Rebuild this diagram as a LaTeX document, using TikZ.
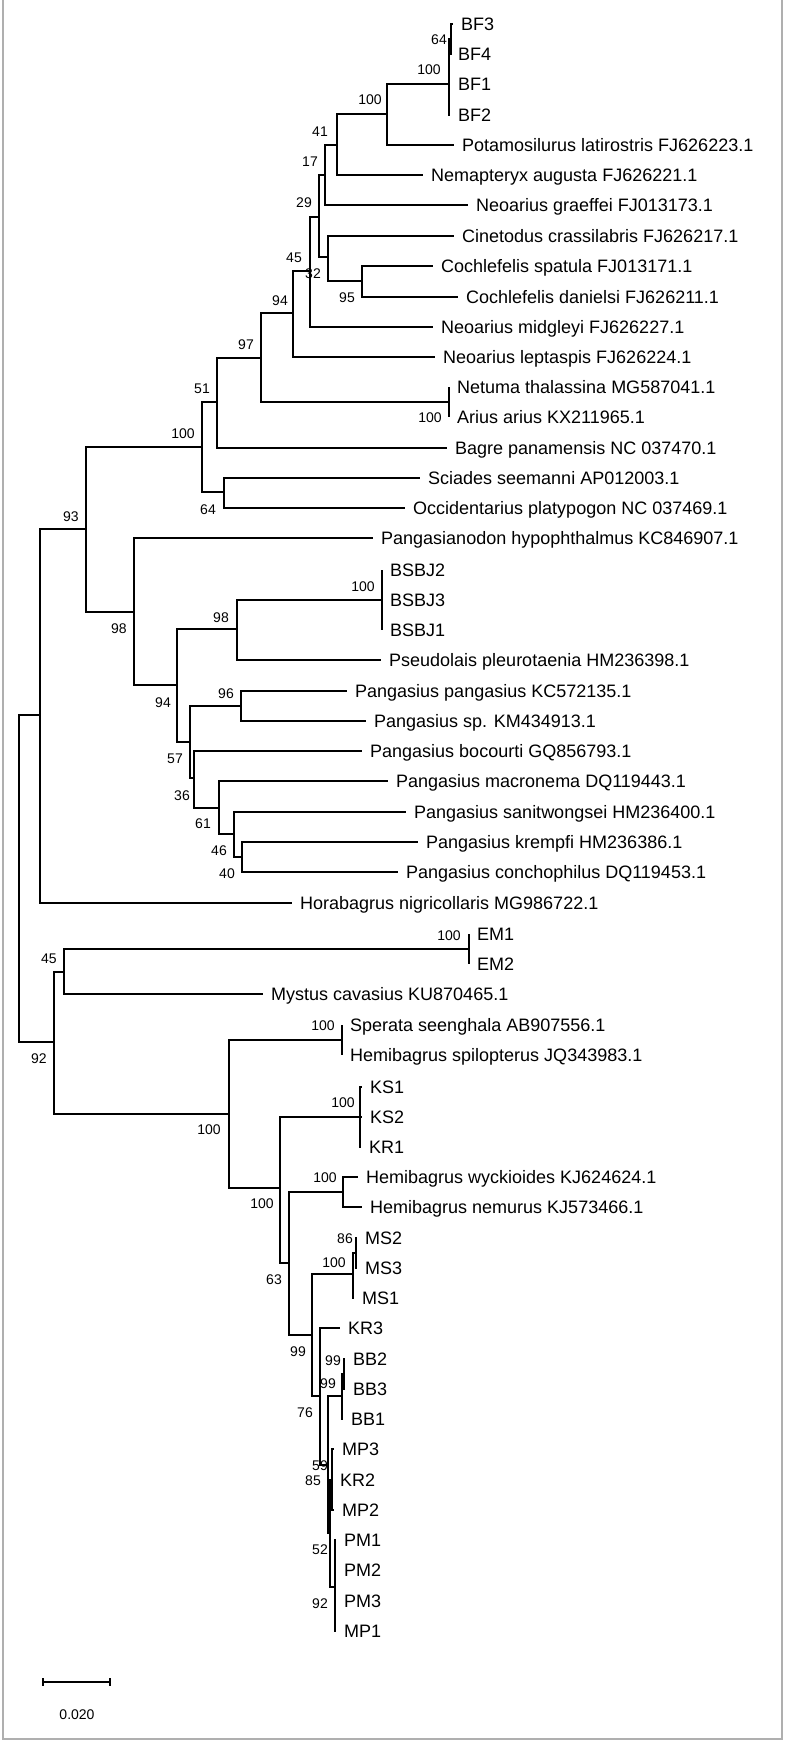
\documentclass[tikz,border=0pt]{standalone}
\usepackage{fontspec}
\setmainfont{Liberation Sans}
\definecolor{framegray}{RGB}{175,175,175}
\begin{document}
\begin{tikzpicture}[x=1pt, y=-1pt,
	branch/.style = {line width = 1.3pt},
	leaf/.style = {anchor = west, inner xsep = 8pt, inner ysep = 0pt, text height = 13pt, text depth = 0pt, font = \fontsize{18}{18}\selectfont},
	boot/.style = {inner sep = 0pt, text height = 10pt, text depth = 0pt, font = \fontsize{14}{14}\selectfont}]

	\useasboundingbox (0,0) rectangle (787,1744);
	\draw [framegray, line width = 2pt] (2.5,0) -- (2.5,1739) -- (782,1739) -- (782,0);

	\coordinate (root) at (19,878);
	\coordinate (nA) at (40,715);
	\coordinate (nB) at (86,529);
	\coordinate (nC) at (202,447);
	\coordinate (nE) at (217,402);
	\coordinate (nG) at (261,358);
	\coordinate (nNA) at (449,402);
	\coordinate (nH) at (293,313);
	\coordinate (nI) at (310,271);
	\coordinate (nJ) at (319,217);
	\coordinate (nL) at (325,175);
	\coordinate (nM) at (337,145);
	\coordinate (nN) at (387,114);
	\coordinate (nO) at (449,84);
	\coordinate (nP) at (451,39);
	\coordinate (nK) at (328,257);
	\coordinate (nQ) at (362,281);
	\coordinate (nF) at (224,492);
	\coordinate (nD) at (134,612);
	\coordinate (nS) at (177,685);
	\coordinate (nT) at (237,629);
	\coordinate (nBS) at (382,600);
	\coordinate (nU) at (190,742);
	\coordinate (nV) at (241,706);
	\coordinate (nW) at (194,778);
	\coordinate (nX) at (219,808);
	\coordinate (nY) at (234,834);
	\coordinate (nZ) at (242,857);
	\coordinate (nAA) at (54,1042);
	\coordinate (nBB) at (64,972);
	\coordinate (nEM) at (469,949);
	\coordinate (nCC) at (229,1114);
	\coordinate (nDD) at (342,1040);
	\coordinate (nEE) at (280,1188);
	\coordinate (nKS) at (360,1117);
	\coordinate (nFF) at (289,1263);
	\coordinate (nGG) at (343,1192);
	\coordinate (nHH) at (312,1335);
	\coordinate (nMS) at (353,1274);
	\coordinate (nMT) at (356,1253);
	\coordinate (nII) at (320,1396);
	\coordinate (nKK) at (328,1465);
	\coordinate (nBA) at (342,1396);
	\coordinate (nBC) at (344,1374);
	\coordinate (nLL) at (330,1533);
	\coordinate (nMP) at (332,1480);
	\coordinate (nPM) at (335,1587);

	\node (bf3)[leaf] at (453,24) {BF3};
	\node (bf4)[leaf] at (450,54) {BF4};
	\node (bf1)[leaf] at (450,84) {BF1};
	\node (bf2)[leaf] at (450,115) {BF2};
	\node (pot)[leaf] at (454,145) {Potamosilurus latirostris FJ626223.1};
	\node (nem)[leaf] at (423,175) {Nemapteryx augusta FJ626221.1};
	\node (ngr)[leaf] at (468,205) {Neoarius graeffei FJ013173.1};
	\node (cin)[leaf] at (454,236) {Cinetodus crassilabris FJ626217.1};
	\node (csp)[leaf] at (433,266) {Cochlefelis spatula FJ013171.1};
	\node (cda)[leaf] at (458,297) {Cochlefelis danielsi FJ626211.1};
	\node (nmi)[leaf] at (433,327) {Neoarius midgleyi FJ626227.1};
	\node (nle)[leaf] at (435,357) {Neoarius leptaspis FJ626224.1};
	\node (net)[leaf] at (449,387) {Netuma thalassina MG587041.1};
	\node (ari)[leaf] at (449,417) {Arius arius KX211965.1};
	\node (bag)[leaf] at (447,448) {Bagre panamensis NC 037470.1};
	\node (sci)[leaf] at (420,478) {Sciades seemanni AP012003.1};
	\node (occ)[leaf] at (405,508) {Occidentarius platypogon NC 037469.1};
	\node (phy)[leaf] at (373,538) {Pangasianodon hypophthalmus KC846907.1};
	\node (bsj2)[leaf] at (382,570) {BSBJ2};
	\node (bsj3)[leaf] at (382,600) {BSBJ3};
	\node (bsj1)[leaf] at (382,630) {BSBJ1};
	\node (pse)[leaf] at (381,660) {Pseudolais pleurotaenia HM236398.1};
	\node (ppa)[leaf] at (347,691) {Pangasius pangasius KC572135.1};
	\node (psp)[leaf] at (366,721) {Pangasius sp. KM434913.1};
	\node (pbo)[leaf] at (362,751) {Pangasius bocourti GQ856793.1};
	\node (pma)[leaf] at (388,781) {Pangasius macronema DQ119443.1};
	\node (psa)[leaf] at (406,812) {Pangasius sanitwongsei HM236400.1};
	\node (pkr)[leaf] at (418,842) {Pangasius krempfi HM236386.1};
	\node (pco)[leaf] at (398,872) {Pangasius conchophilus DQ119453.1};
	\node (hor)[leaf] at (292,903) {Horabagrus nigricollaris MG986722.1};
	\node (em1)[leaf] at (469,934) {EM1};
	\node (em2)[leaf] at (469,964) {EM2};
	\node (mys)[leaf] at (263,994) {Mystus cavasius KU870465.1};
	\node (spe)[leaf] at (342,1025) {Sperata seenghala AB907556.1};
	\node (hsp)[leaf] at (342,1055) {Hemibagrus spilopterus JQ343983.1};
	\node (ks1)[leaf] at (362,1087) {KS1};
	\node (ks2)[leaf] at (362,1117) {KS2};
	\node (kr1)[leaf] at (361,1147) {KR1};
	\node (hwy)[leaf] at (358,1177) {Hemibagrus wyckioides KJ624624.1};
	\node (hne)[leaf] at (362,1207) {Hemibagrus nemurus KJ573466.1};
	\node (ms2)[leaf] at (357,1238) {MS2};
	\node (ms3)[leaf] at (357,1268) {MS3};
	\node (ms1)[leaf] at (354,1298) {MS1};
	\node (kr3)[leaf] at (340,1328) {KR3};
	\node (bb2)[leaf] at (345,1359) {BB2};
	\node (bb3)[leaf] at (345,1389) {BB3};
	\node (bb1)[leaf] at (343,1419) {BB1};
	\node (mp3)[leaf] at (334,1449) {MP3};
	\node (kr2)[leaf] at (332,1480) {KR2};
	\node (mp2)[leaf] at (334,1510) {MP2};
	\node (pm1)[leaf] at (336,1540) {PM1};
	\node (pm2)[leaf] at (336,1570) {PM2};
	\node (pm3)[leaf] at (336,1601) {PM3};
	\node (mp1)[leaf] at (336,1631) {MP1};

	\draw [branch] (root) |- (nA) (root) |- (nAA);
	\draw [branch] (nA) |- (nB) (nA) |- (hor.west);
	\draw [branch] (nB) |- (nC) (nB) |- (nD);
	\draw [branch] (nC) |- (nE) (nC) |- (nF);
	\draw [branch] (nE) |- (nG) (nE) |- (bag.west);
	\draw [branch] (nG) |- (nH) (nG) |- (nNA);
	\draw [branch] (nNA) |- (net.west) (nNA) |- (ari.west);
	\draw [branch] (nH) |- (nI) (nH) |- (nle.west);
	\draw [branch] (nI) |- (nJ) (nI) |- (nmi.west);
	\draw [branch] (nJ) |- (nL) (nJ) |- (nK);
	\draw [branch] (nL) |- (nM) (nL) |- (ngr.west);
	\draw [branch] (nM) |- (nN) (nM) |- (nem.west);
	\draw [branch] (nN) |- (nO) (nN) |- (pot.west);
	\draw [branch] (nO) |- (nP) (nO) |- (bf1.west) (nO) |- (bf2.west);
	\draw [branch] (nP) |- (bf3.west) (nP) |- (bf4.west);
	\draw [branch] (nK) |- (cin.west) (nK) |- (nQ);
	\draw [branch] (nQ) |- (csp.west) (nQ) |- (cda.west);
	\draw [branch] (nF) |- (sci.west) (nF) |- (occ.west);
	\draw [branch] (nD) |- (phy.west) (nD) |- (nS);
	\draw [branch] (nS) |- (nT) (nS) |- (nU);
	\draw [branch] (nT) |- (nBS) (nT) |- (pse.west);
	\draw [branch] (nBS) |- (bsj2.west) (nBS) |- (bsj3.west) (nBS) |- (bsj1.west);
	\draw [branch] (nU) |- (nV) (nU) |- (nW);
	\draw [branch] (nV) |- (ppa.west) (nV) |- (psp.west);
	\draw [branch] (nW) |- (pbo.west) (nW) |- (nX);
	\draw [branch] (nX) |- (pma.west) (nX) |- (nY);
	\draw [branch] (nY) |- (psa.west) (nY) |- (nZ);
	\draw [branch] (nZ) |- (pkr.west) (nZ) |- (pco.west);
	\draw [branch] (nAA) |- (nBB) (nAA) |- (nCC);
	\draw [branch] (nBB) |- (nEM) (nBB) |- (mys.west);
	\draw [branch] (nEM) |- (em1.west) (nEM) |- (em2.west);
	\draw [branch] (nCC) |- (nDD) (nCC) |- (nEE);
	\draw [branch] (nDD) |- (spe.west) (nDD) |- (hsp.west);
	\draw [branch] (nEE) |- (nKS) (nEE) |- (nFF);
	\draw [branch] (nKS) |- (ks1.west) (nKS) |- (ks2.west) (nKS) |- (kr1.west);
	\draw [branch] (nFF) |- (nGG) (nFF) |- (nHH);
	\draw [branch] (nGG) |- (hwy.west) (nGG) |- (hne.west);
	\draw [branch] (nHH) |- (nMS) (nHH) |- (nII);
	\draw [branch] (nMS) |- (nMT) (nMS) |- (ms1.west);
	\draw [branch] (nMT) |- (ms2.west) (nMT) |- (ms3.west);
	\draw [branch] (nII) |- (kr3.west) (nII) |- (nKK);
	\draw [branch] (nKK) |- (nBA) (nKK) |- (nLL);
	\draw [branch] (nBA) |- (nBC) (nBA) |- (bb1.west);
	\draw [branch] (nBC) |- (bb2.west) (nBC) |- (bb3.west);
	\draw [branch] (nLL) |- (nMP) (nLL) |- (nPM);
	\draw [branch] (nMP) |- (mp3.west) (nMP) |- (kr2.west) (nMP) |- (mp2.west);
	\draw [branch] (nPM) |- (pm1.west) (nPM) |- (pm2.west) (nPM) |- (pm3.west) (nPM) |- (mp1.west);

	\node (bP)[boot] at (439,40) {64};
	\node (bO)[boot] at (429,70) {100};
	\node (bN)[boot] at (370,100) {100};
	\node (bM)[boot] at (320,132) {41};
	\node (bL)[boot] at (310,162) {17};
	\node (bJ)[boot] at (304,203) {29};
	\node (bI)[boot] at (294,257) {45};
	\node (bK)[boot] at (313,273) {32};
	\node (bQ)[boot] at (347,297) {95};
	\node (bH)[boot] at (280,300) {94};
	\node (bG)[boot] at (246,344) {97};
	\node (bE)[boot] at (202,388) {51};
	\node (bNA)[boot] at (430,417) {100};
	\node (bC)[boot] at (183,433) {100};
	\node (bF)[boot] at (208,509) {64};
	\node (bB)[boot] at (71,516) {93};
	\node (bBS)[boot] at (363,586) {100};
	\node (bT)[boot] at (221,617) {98};
	\node (bD)[boot] at (119,628) {98};
	\node (bV)[boot] at (226,693) {96};
	\node (bS)[boot] at (163,702) {94};
	\node (bU)[boot] at (175,758) {57};
	\node (bW)[boot] at (182,795) {36};
	\node (bX)[boot] at (203,823) {61};
	\node (bY)[boot] at (219,850) {46};
	\node (bZ)[boot] at (227,873) {40};
	\node (bEM)[boot] at (449,935) {100};
	\node (bBB)[boot] at (49,958) {45};
	\node (bAA)[boot] at (39,1058) {92};
	\node (bDD)[boot] at (323,1025) {100};
	\node (bKS)[boot] at (343,1102) {100};
	\node (bCC)[boot] at (209,1129) {100};
	\node (bGG)[boot] at (325,1177) {100};
	\node (bEE)[boot] at (262,1203) {100};
	\node (bMT)[boot] at (345,1238) {86};
	\node (bMS)[boot] at (334,1262) {100};
	\node (bFF)[boot] at (274,1279) {63};
	\node (bHH)[boot] at (298,1351) {99};
	\node (bBC)[boot] at (333,1360) {99};
	\node (bBA)[boot] at (328,1383) {99};
	\node (bII)[boot] at (305,1412) {76};
	\node (bMP)[boot] at (320,1465) {59};
	\node (bKK)[boot] at (313,1480) {85};
	\node (bLL)[boot] at (320,1549) {52};
	\node (bPM)[boot] at (320,1603) {92};

	\coordinate (s1) at (43,1682);
	\coordinate (s2) at (110,1682);
	\draw [branch] (s1) -- (s2);
	\draw [branch] ([yshift = 4pt]s1) -- ([yshift = -4pt]s1);
	\draw [branch] ([yshift = 4pt]s2) -- ([yshift = -4pt]s2);
	\node (sc)[boot] at (77,1714) {0.020};
\end{tikzpicture}
\end{document}
